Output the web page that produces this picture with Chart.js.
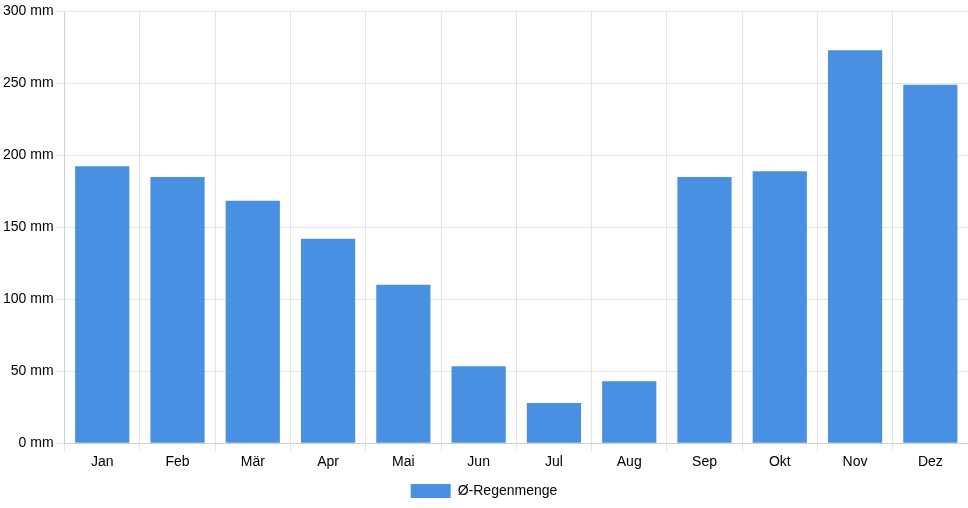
<!DOCTYPE html>
<html>
<head>
<meta charset="utf-8">
<script src="https://cdn.jsdelivr.net/npm/chart.js@4"></script>
<style>
html,body{margin:0;padding:0;background:#fff;}
#wrap{width:968px;height:508px;position:relative;}
</style>
</head>
<body>
<div id="wrap"><canvas id="c"></canvas></div>
<script>
const months = ["Jan","Feb","Mär","Apr","Mai","Jun","Jul","Aug","Sep","Okt","Nov","Dez"];
const rainfall = [192.5, 185, 168.5, 142, 110, 53.5, 28, 43, 185, 189, 273, 249];
const seriesLabel = "Ø-Regenmenge";
const yTicksUnit = " mm";

Chart.defaults.font.family = "'Liberation Sans', Arial, Helvetica, sans-serif";
Chart.defaults.font.size = 14;
Chart.defaults.color = "#000";

new Chart(document.getElementById("c"), {
  type: "bar",
  data: {
    labels: months,
    datasets: [{
      label: seriesLabel,
      data: rainfall,
      backgroundColor: "#4a90e2",
      borderColor: "#4a90e2",
      borderWidth: 0
    }]
  },
  options: {
    responsive: true,
    maintainAspectRatio: false,
    animation: false,
    plugins: {
      legend: { position: "bottom", labels: { boxWidth: 40, boxHeight: 14 } },
      tooltip: { enabled: false }
    },
    scales: {
      x: {
        grid: { color: "rgba(0,0,0,0.1)" },
        ticks: { color: "#000" }
      },
      y: {
        min: 0, max: 300,
        ticks: { stepSize: 50, color: "#000", callback: v => v + yTicksUnit },
        grid: { color: "rgba(0,0,0,0.1)" }
      }
    }
  }
});
</script>
</body>
</html>
